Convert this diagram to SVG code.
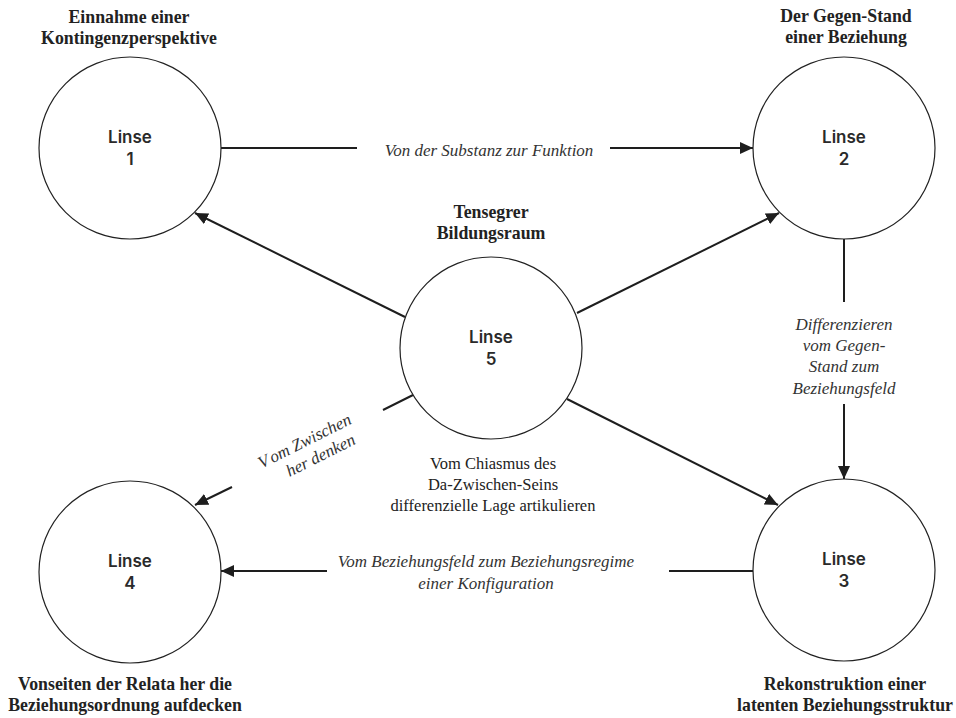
<svg xmlns="http://www.w3.org/2000/svg" width="956" height="718" viewBox="0 0 956 718">
<style>
.node{fill:#fff;stroke:#222;stroke-width:1.2}
.lin{font-family:Inter,"Open Sans",sans-serif;font-weight:600;font-size:17px;fill:#2a2a2a;text-anchor:middle}
.ttl{font-family:"Liberation Serif",serif;font-weight:bold;font-size:17.8px;fill:#222;text-anchor:middle}
.it{font-family:"Liberation Serif",serif;font-style:italic;font-size:17px;fill:#333;text-anchor:middle}
.rg{font-family:"Liberation Serif",serif;font-size:16.5px;fill:#222;text-anchor:middle}
.edge{stroke:#1e1e1e;stroke-width:2;fill:none}
</style>
<defs>
<marker id="ah" markerUnits="userSpaceOnUse" markerWidth="14" markerHeight="12" refX="13" refY="6" orient="auto">
<path d="M0,0 L13,6 L0,12 Z" fill="#1e1e1e"/>
</marker>
</defs>
<rect width="956" height="718" fill="#fff"/>
<g id="connectors">
<line class="edge" x1="221" y1="148" x2="357" y2="148"/>
<line class="edge" x1="610" y1="148" x2="753" y2="148" marker-end="url(#ah)"/>
<text class="it" x="489" y="156">Von der Substanz zur Funktion</text>
<line class="edge" x1="405" y1="317" x2="195" y2="213" marker-end="url(#ah)"/>
<line class="edge" x1="577" y1="313" x2="779" y2="213" marker-end="url(#ah)"/>
<line class="edge" x1="567" y1="399" x2="778" y2="505" marker-end="url(#ah)"/>
<line class="edge" x1="413" y1="395" x2="383" y2="410"/>
<line class="edge" x1="232" y1="487" x2="195" y2="505" marker-end="url(#ah)"/>
<text class="it" transform="translate(307,446) rotate(-26.6)"><tspan x="0" y="0">V<tspan dx="4">om Zwischen</tspan></tspan><tspan x="8" y="20">her denken</tspan></text>
<line class="edge" x1="844" y1="239" x2="844" y2="302"/>
<line class="edge" x1="844" y1="404" x2="844" y2="479" marker-end="url(#ah)"/>
<text class="it"><tspan x="844" y="330">Differenzieren</tspan><tspan x="844" y="351">vom Gegen-</tspan><tspan x="844" y="372">Stand zum</tspan><tspan x="844" y="394">Beziehungsfeld</tspan></text>
<line class="edge" x1="753" y1="571" x2="669" y2="571"/>
<line class="edge" x1="327" y1="571" x2="221" y2="571" marker-end="url(#ah)"/>
<text class="it"><tspan x="486" y="567">Vom Beziehungsfeld zum Beziehungsregime</tspan><tspan x="486" y="589">einer Konfiguration</tspan></text>
</g>
<g id="node1">
<circle class="node" cx="130" cy="148" r="91"/>
<text class="lin"><tspan x="130" y="143">Linse</tspan><tspan x="130" y="165">1</tspan></text>
<text class="ttl"><tspan x="129" y="23">Einnahme einer</tspan><tspan x="129" y="44">Kontingenzperspektive</tspan></text>
</g>
<g id="node2">
<circle class="node" cx="844" cy="148" r="91"/>
<text class="lin"><tspan x="844" y="143">Linse</tspan><tspan x="844" y="165">2</tspan></text>
<text class="ttl"><tspan x="846" y="22">Der Gegen-Stand</tspan><tspan x="846" y="43">einer Beziehung</tspan></text>
</g>
<g id="node5">
<circle class="node" cx="491" cy="348" r="91"/>
<text class="lin"><tspan x="491" y="343">Linse</tspan><tspan x="491" y="365">5</tspan></text>
<text class="ttl"><tspan x="491" y="218">Tensegrer</tspan><tspan x="491" y="239">Bildungsraum</tspan></text>
<text class="rg"><tspan x="493" y="469">Vom Chiasmus des</tspan><tspan x="493" y="490">Da-Zwischen-Seins</tspan><tspan x="493" y="511">differenzielle Lage artikulieren</tspan></text>
</g>
<g id="node4">
<circle class="node" cx="130" cy="572" r="91"/>
<text class="lin"><tspan x="130" y="567">Linse</tspan><tspan x="130" y="589">4</tspan></text>
<text class="ttl"><tspan x="125" y="690">Vonseiten der Relata her die</tspan><tspan x="125" y="711">Beziehungsordnung aufdecken</tspan></text>
</g>
<g id="node3">
<circle class="node" cx="844" cy="570" r="91"/>
<text class="lin"><tspan x="844" y="565">Linse</tspan><tspan x="844" y="587">3</tspan></text>
<text class="ttl"><tspan x="845" y="690">Rekonstruktion einer</tspan><tspan x="845" y="711">latenten Beziehungsstruktur</tspan></text>
</g>
</svg>
